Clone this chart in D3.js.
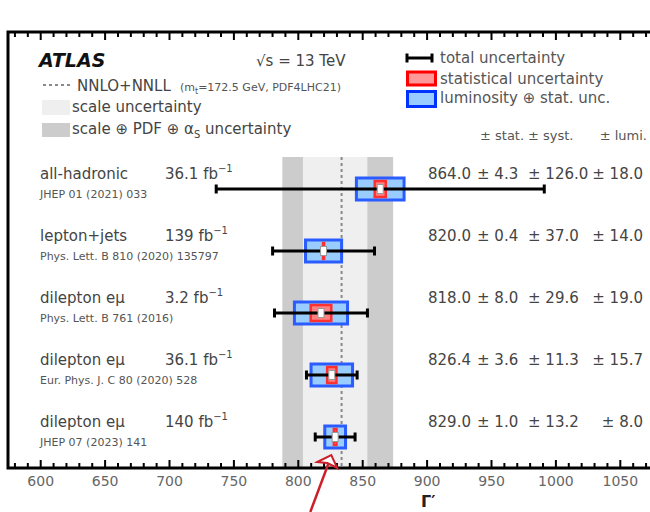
<!DOCTYPE html>
<html>
<head>
<meta charset="utf-8">
<script src="https://cdn.jsdelivr.net/npm/d3@7"></script>
<style>
  html, body { margin: 0; padding: 0; background: #fff; }
  svg { display: block; }
  text { font-family: "DejaVu Sans", sans-serif; }
</style>
</head>
<body>
<div id="chart"></div>
<script>
// Top-quark pair production cross-section measurements at 13 TeV
const channels   = ["all-hadronic", "lepton+jets", "dilepton eμ", "dilepton eμ", "dilepton eμ"];
const lumis      = ["36.1", "139", "3.2", "36.1", "140"];
const refs       = ["JHEP 01 (2021) 033", "Phys. Lett. B 810 (2020) 135797", "Phys. Lett. B 761 (2016)",
                    "Eur. Phys. J. C 80 (2020) 528", "JHEP 07 (2023) 141"];
const centralVal = [864.0, 820.0, 818.0, 826.4, 829.0];
const statErr    = [4.3, 0.4, 8.0, 3.6, 1.0];
const systErr    = [126.0, 37.0, 29.6, 11.3, 13.2];
const lumiErr    = [18.0, 14.0, 19.0, 15.7, 8.0];

// NNLO+NNLL prediction and its uncertainty bands
const theoryVal   = 834;
const scaleBand   = [804, 854];
const totalBand   = [788, 874];

const majorTicks = d3.range(600, 1051, 50);
const minorTicks = d3.range(580, 1071, 10).filter(v => v % 50 !== 0);

const W = 650, H = 512;
const frame = { left: 8, right: 652, top: 32, bottom: 468 };

const svg = d3.select("#chart").append("svg").attr("width", W).attr("height", H);

const x = d3.scaleLinear().domain([575, 1075]).range([frame.left, frame.right]);
const y = d3.scalePoint().domain(d3.range(channels.length)).range([189, 437]);

const bandTop = 157;

// theory bands
svg.append("rect").attr("x", x(totalBand[0])).attr("y", bandTop)
  .attr("width", x(totalBand[1]) - x(totalBand[0])).attr("height", frame.bottom - bandTop)
  .attr("fill", "#cccccc");
svg.append("rect").attr("x", x(scaleBand[0])).attr("y", bandTop)
  .attr("width", x(scaleBand[1]) - x(scaleBand[0])).attr("height", frame.bottom - bandTop)
  .attr("fill", "#efefef");
svg.append("line").attr("x1", x(theoryVal)).attr("x2", x(theoryVal))
  .attr("y1", bandTop).attr("y2", frame.bottom)
  .attr("stroke", "#8a8a8a").attr("stroke-width", 2).attr("stroke-dasharray", "3,3");

// measurements
const rows = svg.append("g").selectAll("g").data(d3.range(channels.length)).join("g");
rows.each(function(i) {
  const g = d3.select(this);
  const c = centralVal[i];
  const tot = Math.sqrt(statErr[i] ** 2 + systErr[i] ** 2 + lumiErr[i] ** 2);
  const bl = Math.sqrt(statErr[i] ** 2 + lumiErr[i] ** 2);
  const yc = y(i);
  // luminosity ⊕ stat box
  g.append("rect").attr("x", x(c - bl)).attr("y", yc - 11)
    .attr("width", x(c + bl) - x(c - bl)).attr("height", 22)
    .attr("fill", "#99ccff").attr("stroke", "#2a5cff").attr("stroke-width", 3);
  // statistical box
  g.append("rect").attr("x", x(c - statErr[i])).attr("y", yc - 8)
    .attr("width", Math.max(x(c + statErr[i]) - x(c - statErr[i]), 0.5)).attr("height", 16)
    .attr("fill", "#ff8080").attr("stroke", "#ff3030").attr("stroke-width", 2.5);
  // total uncertainty
  g.append("line").attr("x1", x(c - tot)).attr("x2", x(c + tot)).attr("y1", yc).attr("y2", yc)
    .attr("stroke", "#000").attr("stroke-width", 3);
  [c - tot, c + tot].forEach(v => {
    g.append("line").attr("x1", x(v)).attr("x2", x(v)).attr("y1", yc - 4.5).attr("y2", yc + 4.5)
      .attr("stroke", "#000").attr("stroke-width", 3);
  });
  // central value marker
  g.append("rect").attr("x", x(c) - 3).attr("y", yc - 4.5).attr("width", 6).attr("height", 9)
    .attr("fill", "#fff").attr("stroke", "#999").attr("stroke-width", 1);

  // labels
  g.append("text").attr("x", 40).attr("y", yc - 10).attr("font-size", 15).attr("fill", "#444")
    .text(channels[i]);
  const lt = g.append("text").attr("x", 165).attr("y", yc - 10).attr("font-size", 15).attr("fill", "#444");
  lt.append("tspan").text(lumis[i] + " fb");
  lt.append("tspan").attr("font-size", 10).attr("dy", -7).text("−1");
  g.append("text").attr("x", 40).attr("y", yc + 8.5).attr("font-size", 11).attr("fill", "#555")
    .text(refs[i]);
  const fmt = d3.format(".1f");
  g.append("text").attr("x", 428).attr("y", yc - 10).attr("font-size", 15).attr("fill", "#444")
    .text(fmt(c));
  g.append("text").attr("x", 477).attr("y", yc - 10).attr("font-size", 15).attr("fill", "#444")
    .text("± " + fmt(statErr[i]));
  g.append("text").attr("x", 528).attr("y", yc - 10).attr("font-size", 15).attr("fill", "#444")
    .text("± " + fmt(systErr[i]));
  g.append("text").attr("x", 643).attr("y", yc - 10).attr("font-size", 15).attr("fill", "#444")
    .attr("text-anchor", "end").text("± " + fmt(lumiErr[i]));
});

// column header
svg.append("text").attr("x", 480).attr("y", 140).attr("font-size", 13).attr("fill", "#555").text("± stat.");
svg.append("text").attr("x", 528).attr("y", 140).attr("font-size", 13).attr("fill", "#555").text("± syst.");
svg.append("text").attr("x", 647).attr("y", 140).attr("font-size", 13).attr("fill", "#555")
  .attr("text-anchor", "end").text("± lumi.");

// axes
const gx = svg.append("g").attr("transform", `translate(0,${frame.bottom})`);
gx.call(d3.axisBottom(x).tickValues(minorTicks).tickSize(-5).tickSizeOuter(0).tickFormat(""));
gx.call(g => g.select(".domain").remove());
const gxM = svg.append("g").attr("transform", `translate(0,${frame.bottom})`);
gxM.call(d3.axisBottom(x).tickValues(majorTicks).tickSize(-8).tickSizeOuter(0).tickPadding(8)
  .tickFormat(d3.format("d")));
gxM.select(".domain").remove();
const gt = svg.append("g").attr("transform", `translate(0,${frame.top})`);
gt.call(d3.axisTop(x).tickValues(minorTicks).tickSize(-5).tickSizeOuter(0).tickFormat(""));
gt.select(".domain").remove();
const gtM = svg.append("g").attr("transform", `translate(0,${frame.top})`);
gtM.call(d3.axisTop(x).tickValues(majorTicks).tickSize(-8).tickSizeOuter(0).tickFormat(""));
gtM.select(".domain").remove();
svg.selectAll(".tick line").attr("stroke", "#000").attr("stroke-width", 2);
svg.selectAll(".tick text").attr("font-size", 14).attr("fill", "#666")
  .attr("font-family", "DejaVu Sans, sans-serif");

// frame
svg.append("path")
  .attr("d", `M${frame.right},${frame.top}H${frame.left}V${frame.bottom}H${frame.right}`)
  .attr("fill", "none").attr("stroke", "#000").attr("stroke-width", 3);

// axis title
svg.append("text").attr("x", 421).attr("y", 507).attr("font-size", 16).attr("font-weight", "bold")
  .attr("fill", "#222").text("Γ′");

// header texts
svg.append("text").attr("x", 39).attr("y", 67).attr("font-size", 19).attr("font-weight", "bold")
  .attr("font-style", "italic").attr("fill", "#111").text("ATLAS");
svg.append("text").attr("x", 256).attr("y", 66).attr("font-size", 15).attr("fill", "#444")
  .text("√s = 13 TeV");

// left legend
svg.append("line").attr("x1", 43).attr("x2", 72).attr("y1", 85).attr("y2", 85)
  .attr("stroke", "#8a8a8a").attr("stroke-width", 2).attr("stroke-dasharray", "3,3");
const th = svg.append("text").attr("x", 77).attr("y", 90.5).attr("font-size", 15).attr("fill", "#444");
th.append("tspan").text("NNLO+NNLL ");
const thp = svg.append("text").attr("x", 180).attr("y", 90.5).attr("font-size", 11).attr("fill", "#555");
thp.append("tspan").text("(m");
thp.append("tspan").attr("font-size", 8).attr("dy", 3).text("t");
thp.append("tspan").attr("dy", -3).text("=172.5 GeV, PDF4LHC21)");
svg.append("rect").attr("x", 42).attr("y", 100).attr("width", 28).attr("height", 15).attr("fill", "#efefef");
svg.append("text").attr("x", 72).attr("y", 112).attr("font-size", 15).attr("fill", "#444").text("scale uncertainty");
svg.append("rect").attr("x", 42).attr("y", 123).attr("width", 28).attr("height", 14).attr("fill", "#cccccc");
const sp = svg.append("text").attr("x", 72).attr("y", 134).attr("font-size", 15).attr("fill", "#444");
sp.append("tspan").text("scale ⊕ PDF ⊕ α");
sp.append("tspan").attr("font-size", 10).attr("dy", 4).text("S");
sp.append("tspan").attr("dy", -4).text(" uncertainty");

// right legend
svg.append("line").attr("x1", 407).attr("x2", 432).attr("y1", 58).attr("y2", 58)
  .attr("stroke", "#000").attr("stroke-width", 3);
[407, 432].forEach(px => svg.append("line").attr("x1", px).attr("x2", px).attr("y1", 53.5).attr("y2", 62.5)
  .attr("stroke", "#000").attr("stroke-width", 3));
svg.append("text").attr("x", 440).attr("y", 63).attr("font-size", 15).attr("fill", "#555").text("total uncertainty");
svg.append("rect").attr("x", 407.5).attr("y", 72).attr("width", 28).attr("height", 13)
  .attr("fill", "#ff9999").attr("stroke", "#ff0000").attr("stroke-width", 3);
svg.append("text").attr("x", 440).attr("y", 84).attr("font-size", 15).attr("fill", "#555").text("statistical uncertainty");
svg.append("rect").attr("x", 407.5).attr("y", 91.5).attr("width", 28).attr("height", 15)
  .attr("fill", "#99ccff").attr("stroke", "#0033ff").attr("stroke-width", 3);
svg.append("text").attr("x", 440).attr("y", 103).attr("font-size", 15).attr("fill", "#555").text("luminosity ⊕ stat. unc.");

// annotation arrow pointing at the axis
const tipX = x(826), tipY = frame.bottom - 13;
svg.append("path")
  .attr("d", `M${tipX - 21},${H}L${tipX},${tipY + 1}`)
  .attr("stroke", "#cc1f2a").attr("stroke-width", 2.5).attr("fill", "none");
svg.append("path")
  .attr("d", `M${tipX - 14},${tipY + 7}L${tipX},${tipY}L${tipX + 6},${tipY + 13}L${tipX - 4},${tipY + 8}Z`)
  .attr("stroke", "#cc1f2a").attr("stroke-width", 2).attr("fill", "#fff").attr("stroke-linejoin", "miter");
</script>
</body>
</html>
